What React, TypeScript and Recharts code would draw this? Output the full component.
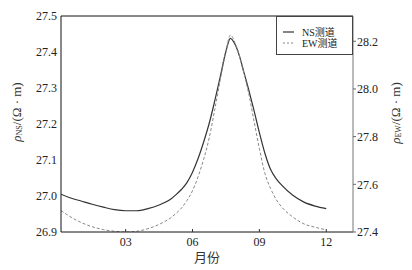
import { LineChart, Line, XAxis, YAxis, ReferenceLine, Legend } from 'recharts';

// month (fractional), NS resistivity (left axis), EW resistivity (right axis)
const months = [0.1, 0.5, 1, 1.5, 2, 2.5, 3, 3.5, 4, 4.5, 5, 5.25, 5.5, 5.75, 6, 6.25, 6.5, 6.75, 7, 7.25, 7.5, 7.7, 7.9, 8.1, 8.3, 8.5, 8.75, 9, 9.25, 9.5, 9.75, 10, 10.5, 11, 11.5, 12];
const nsValues = [27.005, 26.995, 26.986, 26.977, 26.969, 26.962, 26.959, 26.959, 26.965, 26.975, 26.99, 27.003, 27.018, 27.037, 27.066, 27.104, 27.15, 27.202, 27.265, 27.333, 27.402, 27.438, 27.422, 27.39, 27.345, 27.3, 27.24, 27.176, 27.118, 27.074, 27.048, 27.03, 27.002, 26.983, 26.972, 26.965];
const ewValues = [27.49, 27.465, 27.44, 27.422, 27.41, 27.403, 27.4, 27.403, 27.414, 27.432, 27.458, 27.477, 27.5, 27.532, 27.573, 27.632, 27.705, 27.795, 27.915, 28.04, 28.158, 28.226, 28.195, 28.14, 28.068, 27.99, 27.87, 27.75, 27.645, 27.583, 27.537, 27.505, 27.463, 27.434, 27.42, 27.409];

const monthTicks = [3, 6, 9, 12];
const nsTicks = [26.9, 27.0, 27.1, 27.2, 27.3, 27.4, 27.5];
const ewTicks = [27.4, 27.6, 27.8, 28.0, 28.2];

const data = months.map((m, i) => ({ month: m, ns: nsValues[i], ew: ewValues[i] }));

const FONT = '"Liberation Serif", "Times New Roman", "Noto Sans CJK SC", serif';
const tickStyle = { fontSize: 12, fill: '#222', fontFamily: FONT };

const MonthTick = (props: any) => {
    const { x, y, payload } = props;
    return (
        <g>
            <line x1={x} x2={x} y1={y} y2={y - 3} stroke="#333" />
            <text x={x} y={y + 14} textAnchor="middle" {...tickStyle}>
                {String(payload.value).padStart(2, '0')}
            </text>
        </g>
    );
};

const AxisTitle = ({ x, y, sub }: { x: number; y: number; sub: string }) => (
    <text
        x={x}
        y={y}
        transform={`rotate(-90, ${x}, ${y})`}
        textAnchor="middle"
        dominantBaseline="central"
        fontFamily={FONT}
        fontSize={13}
        fill="#333"
    >
        <tspan fontStyle="italic">ρ</tspan>
        <tspan fontSize={8} dy={3}>{sub}</tspan>
        <tspan dy={-3}>/(Ω · m)</tspan>
    </text>
);

const LegendBox = () => (
    <svg width={77} height={39} style={{ display: 'block' }}>
        <rect x={0.5} y={0.5} width={76} height={38} fill="#fff" stroke="#444" />
        <line x1={7} x2={18} y1={16} y2={16} stroke="#333" strokeWidth={1.2} />
        <line x1={7} x2={18} y1={27} y2={27} stroke="#888" strokeDasharray="2 2" />
        <text x={26} y={16} dominantBaseline="central" fontFamily={FONT} fontSize={10} fill="#222">NS测道</text>
        <text x={26} y={27} dominantBaseline="central" fontFamily={FONT} fontSize={10} fill="#222">EW测道</text>
    </svg>
);

export default function App() {
    return (
        <div style={{ position: 'absolute', left: 0, top: 0, background: '#fff' }}>
            <LineChart width={412} height={270} data={data} margin={{ top: 16, right: 0, left: 0, bottom: 0 }}>
                <XAxis
                    dataKey="month"
                    type="number"
                    domain={[0.1, 13.2]}
                    ticks={monthTicks}
                    allowDataOverflow
                    height={38}
                    tickSize={0}
                    tickMargin={0}
                    tickLine={false}
                    tick={<MonthTick />}
                    axisLine={{ stroke: '#111' }}
                    label={{
                        content: () => (
                            <text x={207} y={262} textAnchor="middle" fontFamily={FONT} fontSize={13} fill="#333">月份</text>
                        ),
                    }}
                />
                <YAxis
                    yAxisId="left"
                    orientation="left"
                    width={61}
                    domain={[26.9, 27.5]}
                    ticks={nsTicks}
                    allowDataOverflow
                    tickFormatter={(v: number) => v.toFixed(1)}
                    tickLine={false}
                    tickSize={2}
                    tickMargin={2}
                    tick={tickStyle}
                    axisLine={{ stroke: '#111' }}
                    label={{ content: () => <AxisTitle x={16} y={112} sub="NS" /> }}
                />
                <YAxis
                    yAxisId="right"
                    orientation="right"
                    width={59}
                    domain={[27.4, 28.306]}
                    ticks={ewTicks}
                    allowDataOverflow
                    tickFormatter={(v: number) => v.toFixed(1)}
                    tickSize={3}
                    tickMargin={1}
                    tickLine={{ stroke: '#666' }}
                    tick={tickStyle}
                    axisLine={{ stroke: '#777' }}
                    label={{ content: () => <AxisTitle x={395} y={113} sub="EW" /> }}
                />
                <ReferenceLine yAxisId="left" y={27.5} stroke="#111" />
                <Line
                    yAxisId="left"
                    type="monotone"
                    dataKey="ns"
                    stroke="#333"
                    strokeWidth={1.2}
                    dot={false}
                    isAnimationActive={false}
                />
                <Line
                    yAxisId="right"
                    type="monotone"
                    dataKey="ew"
                    stroke="#888"
                    strokeWidth={1}
                    strokeDasharray="3 2"
                    dot={false}
                    isAnimationActive={false}
                />
                <Legend
                    layout="horizontal"
                    verticalAlign="middle"
                    align="center"
                    wrapperStyle={{ left: 276, top: 16, width: 77, height: 39 }}
                    content={() => <LegendBox />}
                />
            </LineChart>
        </div>
    );
}
